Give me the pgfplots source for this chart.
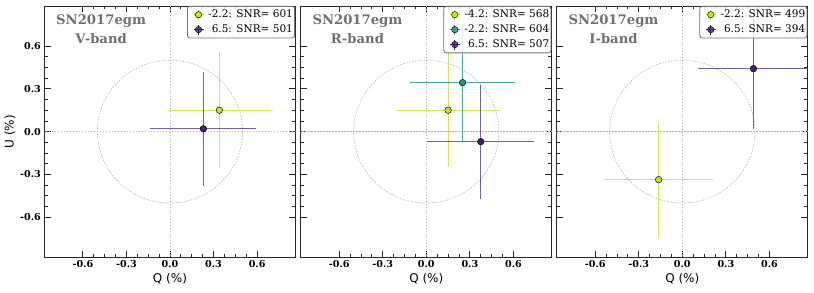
\documentclass[border=0pt]{standalone}
\usepackage{fontspec}
\setmainfont{DejaVu Serif}
\newfontfamily\dvsans{DejaVu Sans}
\usepackage{pgfplots}
\pgfplotsset{compat=1.18}
\definecolor{cyel}{HTML}{BDDF26}
\definecolor{cteal}{HTML}{21918C}
\definecolor{cpur}{HTML}{42206A}
\definecolor{ctitle}{HTML}{707070}
\tikzset{guide/.style={gray!60, line width=0.6pt, dash pattern=on 1.6pt off 1.4pt}}
\pgfplotsset{
  panel/.style={
    scale only axis, width=251.2pt, height=251.3pt,
    anchor=south west,
    xmin=-0.865, xmax=0.865, ymin=-0.88, ymax=0.88,
    xtick={-0.6,-0.3,0,0.3,0.6}, ytick={-0.6,-0.3,0,0.3,0.6},
    minor tick num=3,
    tick align=inside,
    major tick length=6.5pt, minor tick length=3.5pt,
    every tick/.style={black!85, line width=0.8pt},
    axis line style={black!85, line width=0.9pt},
    /pgf/number format/assume math mode=true,
    /pgf/number format/.cd, fixed, fixed zerofill, precision=1, /pgfplots/.cd,
    ticklabel style={font=\fontsize{9.6}{11}\selectfont\bfseries},
    xlabel={\dvsans Q (\%)},
    xlabel style={font=\fontsize{12}{14}\selectfont, yshift=2pt},
    legend cell align=left,
    legend style={at={(1,1)}, anchor=north east, xshift=-0.6pt, draw=black!55, rounded corners=2.5pt,
      fill=white, fill opacity=0.8, text opacity=1, draw opacity=1, line width=0.8pt,
      font=\fontsize{10.5}{12}\selectfont, inner xsep=0.5pt, inner ysep=2.5pt,
      nodes={inner sep=1.2pt, draw=none, fill=none},
      row sep=3.2pt},
  },
  pt/.style 2 args={forget plot, only marks, mark=*, mark size=3.3pt, color=#1,
    mark options={fill=#1, draw=black, line width=0.45pt},
    error bars/.cd, x dir=both, y dir=both, x explicit, y explicit,
    error mark=none, error bar style={#1, line width=1.1pt, opacity=#2},
    /pgfplots/.cd},
  leg/.style={legend image code/.code={
    \path[draw=none, fill=none] (-10.5pt,-4pt) rectangle (8.5pt,4pt);
    \draw[#1, line width=1pt, sharp corners] (-5pt,0)--(5pt,0) (0,-5pt)--(0,5pt);
    \fill[#1, draw=black, line width=0.45pt] (0,0) circle (3.2pt);}},
}
\newcommand{\guides}{%
  \draw[guide] (axis cs:-1,0) -- (axis cs:1,0);
  \draw[guide] (axis cs:0,-1) -- (axis cs:0,1);
  \draw[guide] (axis cs:0,0) ellipse [x radius=0.5, y radius=0.5];
}
\newcommand{\bandlabel}[1]{%
  \node[font=\fontsize{13.2}{15}\selectfont\bfseries, text=ctitle] at (rel axis cs:0.226,0.94) {SN2017egm};
  \node[font=\fontsize{13.2}{15}\selectfont\bfseries, text=ctitle] at (rel axis cs:0.226,0.869) {#1-band};
}
\begin{document}
\begin{tikzpicture}
\useasboundingbox (0,0) rectangle (814pt,292pt);
% V band
\begin{axis}[panel, at={(44.4pt,34.7pt)},
  ylabel={\dvsans U (\%)}, ylabel style={font=\fontsize{12}{14}\selectfont, yshift=-2pt}]
\guides
\addplot+[pt={cyel}{0.75}] coordinates {(0.34,0.15) +- (0.357,0.405)};
\addplot+[pt={cpur}{0.7}] coordinates {(0.23,0.02) +- (0.365,0.40)};
\bandlabel{V}
\addlegendimage{leg=cyel}\addlegendentry{-2.2: SNR= 601}
\addlegendimage{leg=cpur}\addlegendentry{\hphantom{-}6.5: SNR= 501}
\end{axis}
% R band
\begin{axis}[panel, at={(300.7pt,34.7pt)}, yticklabels={}]
\guides
\addplot+[pt={cyel}{0.75}] coordinates {(0.15,0.15) +- (0.36,0.40)};
\addplot+[pt={cteal}{0.8}] coordinates {(0.25,0.343) +- (0.36,0.41)};
\addplot+[pt={cpur}{0.7}] coordinates {(0.375,-0.07) +- (0.37,0.40)};
\bandlabel{R}
\addlegendimage{leg=cyel}\addlegendentry{-4.2: SNR= 568}
\addlegendimage{leg=cteal}\addlegendentry{-2.2: SNR= 604}
\addlegendimage{leg=cpur}\addlegendentry{\hphantom{-}6.5: SNR= 507}
\end{axis}
% I band
\begin{axis}[panel, at={(556.7pt,34.7pt)}, yticklabels={}]
\guides
\addplot+[pt={cyel}{0.75}] coordinates {(-0.163,-0.336) +- (0.373,0.403)};
\addplot+[pt={cpur}{0.7}] coordinates {(0.49,0.441) +- (0.38,0.42)};
\bandlabel{I}
\addlegendimage{leg=cyel}\addlegendentry{-2.2: SNR= 499}
\addlegendimage{leg=cpur}\addlegendentry{\hphantom{-}6.5: SNR= 394}
\end{axis}
\end{tikzpicture}
\end{document}
